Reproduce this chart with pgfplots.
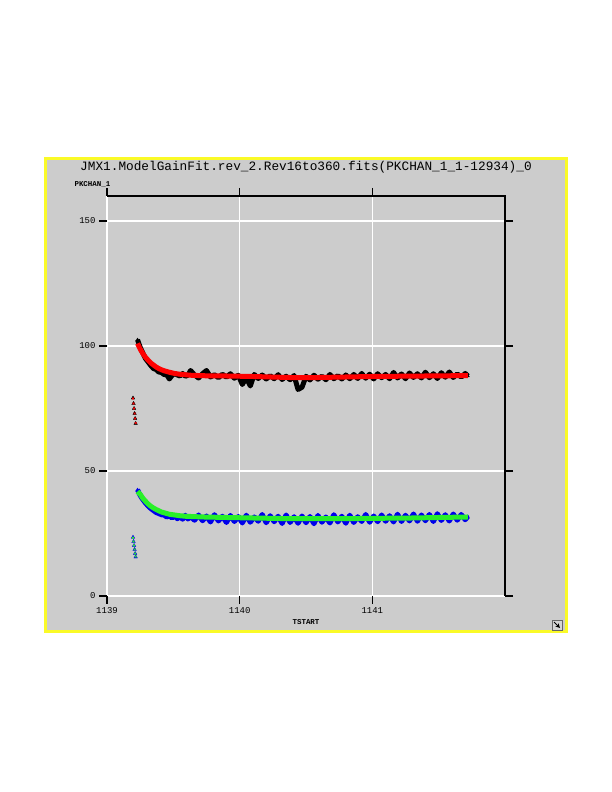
\documentclass[border=0pt]{standalone}
\usepackage{fontspec}
\setmainfont{Liberation Sans}
\setmonofont{Liberation Mono}
\usepackage{pgfplots}
\pgfplotsset{compat=1.18}
\definecolor{panel}{RGB}{204,204,204}
\definecolor{ybord}{RGB}{250,250,40}
\definecolor{fitgreen}{RGB}{40,240,40}
\definecolor{datblue}{RGB}{0,0,235}
\begin{document}
\begin{tikzpicture}[x=1bp,y=1bp]
\fill[white] (0,0) rectangle (612,792);
\useasboundingbox (0,0) rectangle (612,792);
\filldraw[fill=panel, draw=ybord, line width=3bp] (45,160) rectangle (566,633);
\node[font=\ttfamily\fontsize{12.8}{13}\selectfont] at (306,625) {JMX1.ModelGainFit.rev\_2.Rev16to360.fits(PKCHAN\_1\_1-12934)\_0};
\node[anchor=west,font=\ttfamily\bfseries\fontsize{7.5}{7.5}\selectfont] at (71,608) {PKCHAN\_1};
\node[font=\ttfamily\bfseries\fontsize{7.5}{7.5}\selectfont] at (306,170) {TSTART};
\draw[fill=panel!85!white, draw=black!60] (552,162) rectangle (562,172);
\draw[-stealth, line width=1bp] (554,170) -- (560,164);
\begin{axis}[at={(107bp,196bp)}, anchor=south west, scale only axis,
  width=398bp, height=400bp,
  xmin=1139, xmax=1142, ymin=0, ymax=160,
  xtick={1139,1140,1141}, ytick={0,50,100,150},
  grid=major, grid style={white, line width=1.2bp},
  axis line style={draw=none},
  tick align=outside, major tick length=8bp,
  tick style={black, line width=1.2bp},
  ticklabel style={font=\ttfamily\fontsize{9}{9}\selectfont},
  /pgf/number format/assume math mode=true,
  /pgf/number format/1000 sep={},
  clip marker paths=true, clip=false]
% black data (upper)
\addplot[black, line width=5bp, line join=round, mark=triangle*, mark size=1.8bp, mark options={solid, line width=0.3bp}] coordinates {
(1139.23,102.5) (1139.25,99.5) (1139.27,97.2) (1139.29,95.0) (1139.31,93.6)
(1139.33,92.2) (1139.35,91.0) (1139.37,90.6) (1139.39,89.6) (1139.41,89.4)
(1139.43,88.6) (1139.45,88.5) (1139.47,86.8) (1139.49,88.2) (1139.51,89.0)
(1139.53,88.4) (1139.55,88.0) (1139.57,89.0) (1139.59,87.9) (1139.61,88.3)
(1139.63,90.2) (1139.66,88.4) (1139.69,87.2) (1139.72,88.9) (1139.75,90.2)
(1139.78,87.6) (1139.81,88.5) (1139.84,87.3) (1139.87,88.7) (1139.90,87.5)
(1139.93,88.9) (1139.96,87.1) (1139.99,88.3) (1140.02,84.6) (1140.05,87.4)
(1140.08,84.0) (1140.11,88.6) (1140.14,87.0) (1140.17,88.4) (1140.20,86.8)
(1140.23,88.1) (1140.26,86.9) (1140.29,88.5) (1140.32,86.6) (1140.35,87.9)
(1140.38,86.5) (1140.41,88.2) (1140.44,82.6) (1140.47,83.5) (1140.50,87.9)
(1140.53,86.4) (1140.56,88.3) (1140.59,86.7) (1140.62,87.9) (1140.65,86.5)
(1140.68,88.6) (1140.71,86.9) (1140.74,88.1) (1140.77,86.8) (1140.80,88.4)
(1140.83,86.9) (1140.86,88.6) (1140.89,87.0) (1140.92,89.0) (1140.95,87.1)
(1140.98,88.7) (1141.01,86.8) (1141.04,88.9) (1141.07,87.3) (1141.10,88.6)
(1141.13,86.9) (1141.16,89.4) (1141.19,87.2) (1141.22,88.8) (1141.25,86.9)
(1141.28,89.2) (1141.31,87.4) (1141.34,88.9) (1141.37,87.2) (1141.40,89.5)
(1141.43,87.3) (1141.46,88.9) (1141.49,87.0) (1141.52,89.3) (1141.55,87.5)
(1141.58,89.6) (1141.61,87.4) (1141.64,88.8) (1141.67,87.6) (1141.70,89.0)
(1141.72,88.0)};
\addplot[only marks, black, mark=triangle*, mark size=2.1bp, mark options={line width=0.3bp}] coordinates {
(1139.196,79.2) (1139.200,77.0) (1139.204,75.0) (1139.208,73.0) (1139.212,71.0) (1139.216,69.0)};
% blue data (lower)
\addplot[datblue, line width=5bp, line join=round, mark=triangle*, mark size=1.8bp, mark options={solid, line width=0.3bp}] coordinates {
(1139.23,42.5) (1139.25,40.2) (1139.27,38.6) (1139.29,37.2) (1139.31,36.0)
(1139.33,35.0) (1139.35,34.2) (1139.37,33.4) (1139.39,33.0) (1139.41,32.5)
(1139.43,32.4) (1139.45,31.6) (1139.47,32.1) (1139.49,31.2) (1139.51,32.0)
(1139.53,30.9) (1139.55,31.8) (1139.57,30.7) (1139.59,32.3) (1139.61,30.8)
(1139.63,31.7) (1139.66,30.3) (1139.69,32.4) (1139.72,30.1) (1139.75,32.0)
(1139.78,29.6) (1139.81,32.5) (1139.84,30.0) (1139.87,31.9) (1139.90,29.4)
(1139.93,32.2) (1139.96,29.8) (1139.99,31.8) (1140.02,29.2) (1140.05,32.3)
(1140.08,29.5) (1140.11,31.6) (1140.14,29.9) (1140.17,32.6) (1140.20,29.3)
(1140.23,32.1) (1140.26,29.7) (1140.29,31.9) (1140.32,29.0) (1140.35,32.4)
(1140.38,29.4) (1140.41,31.7) (1140.44,29.1) (1140.47,32.0) (1140.50,29.3)
(1140.53,31.8) (1140.56,28.9) (1140.59,32.2) (1140.62,29.5) (1140.65,31.6)
(1140.68,29.2) (1140.71,32.5) (1140.74,29.6) (1140.77,31.9) (1140.80,29.1)
(1140.83,32.3) (1140.86,29.4) (1140.89,31.7) (1140.92,29.8) (1140.95,32.6)
(1140.98,29.5) (1141.01,32.0) (1141.04,29.7) (1141.07,32.4) (1141.10,29.9)
(1141.13,32.1) (1141.16,29.6) (1141.19,32.7) (1141.22,29.8) (1141.25,32.3)
(1141.28,30.0) (1141.31,32.8) (1141.34,29.9) (1141.37,32.4) (1141.40,30.1)
(1141.43,32.6) (1141.46,29.8) (1141.49,32.9) (1141.52,30.2) (1141.55,32.5)
(1141.58,30.0) (1141.61,32.8) (1141.64,30.3) (1141.67,32.6) (1141.70,30.5)
(1141.72,31.8)};
\addplot[only marks, datblue, mark=triangle*, mark size=2.1bp, mark options={line width=0.3bp}] coordinates {
(1139.196,23.5) (1139.200,21.8) (1139.204,20.2) (1139.208,18.6) (1139.212,17.0) (1139.216,15.6)};
% red fit
\addplot[red, line width=5bp, line cap=butt] coordinates {
(1139.23,101.0) (1139.25,98.8) (1139.27,97.0) (1139.29,95.5) (1139.31,94.3)
(1139.33,93.2) (1139.35,92.4) (1139.37,91.6) (1139.39,91.0) (1139.41,90.5)
(1139.43,90.1) (1139.47,89.5) (1139.51,89.0) (1139.55,88.7) (1139.59,88.5)
(1139.63,88.3) (1139.73,88.1) (1139.9,88.0) (1140.1,87.8) (1140.3,87.5)
(1140.45,87.3) (1140.6,87.4) (1140.8,87.6) (1141.0,87.8) (1141.2,87.9)
(1141.4,88.0) (1141.6,88.1) (1141.72,88.1)};
\addplot[only marks, red, mark=x, mark size=1.2bp, line width=0.8bp] coordinates {
(1139.196,79.0) (1139.200,77.0) (1139.204,75.0) (1139.208,73.0) (1139.212,71.0) (1139.216,69.2)};
% green fit
\addplot[fitgreen, line width=5bp, line cap=butt] coordinates {
(1139.23,41.8) (1139.25,40.7) (1139.27,39.1) (1139.29,37.9) (1139.31,36.8)
(1139.33,35.9) (1139.35,35.2) (1139.37,34.6) (1139.39,34.1) (1139.41,33.6)
(1139.43,33.3) (1139.47,32.7) (1139.51,32.4) (1139.55,32.1) (1139.59,31.9)
(1139.63,31.8) (1139.73,31.6) (1139.9,31.4) (1140.1,31.2) (1140.3,31.0)
(1140.5,30.9) (1140.7,30.9) (1140.9,31.0) (1141.1,31.1) (1141.3,31.2)
(1141.5,31.4) (1141.72,31.6)};
\addplot[only marks, fitgreen, mark=x, mark size=1.2bp, line width=0.8bp] coordinates {
(1139.196,23.3) (1139.200,21.8) (1139.204,20.2) (1139.208,18.6) (1139.212,17.0) (1139.216,15.8)};
\draw[black, line width=1.3bp] (rel axis cs:0,1) -- (rel axis cs:1,1) -- (rel axis cs:1,0);
\end{axis}
\end{tikzpicture}
\end{document}
